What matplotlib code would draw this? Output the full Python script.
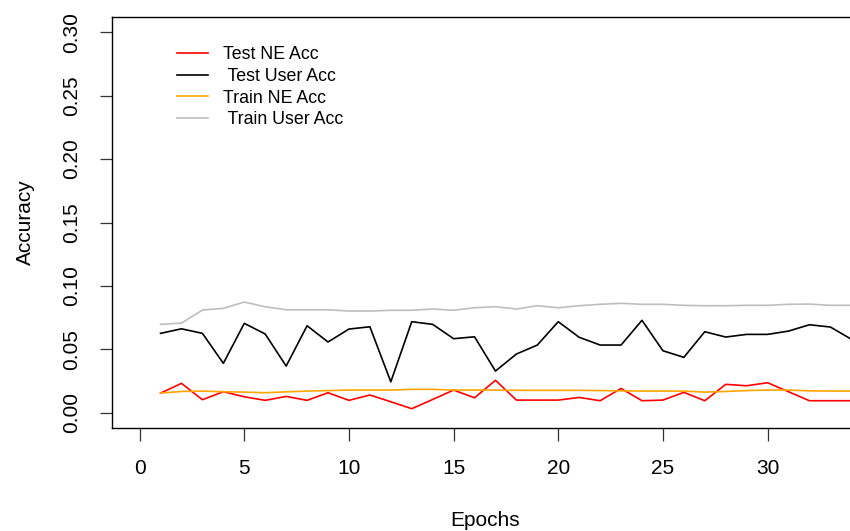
import matplotlib
matplotlib.use("Agg")
import matplotlib.pyplot as plt
import numpy as np

plt.rcParams['font.family'] = ['Liberation Sans', 'DejaVu Sans']

epochs = list(range(1, 35))
test_ne = [0.0155, 0.0232, 0.0103, 0.0166, 0.0126, 0.0098, 0.0129, 0.0098, 0.0158, 0.0098,
           0.0140, 0.0087, 0.0032, 0.0105, 0.0179, 0.0118, 0.0256, 0.0100, 0.0100, 0.0100,
           0.0121, 0.0095, 0.0192, 0.0095, 0.0100, 0.0161, 0.0095, 0.0224, 0.0213, 0.0237,
           0.0166, 0.0095, 0.0095, 0.0095]
test_user = [0.0626, 0.0662, 0.0626, 0.0390, 0.0705, 0.0621, 0.0368, 0.0686, 0.0558, 0.0660,
             0.0678, 0.0244, 0.0718, 0.0697, 0.0584, 0.0599, 0.0329, 0.0463, 0.0534, 0.0718,
             0.0595, 0.0534, 0.0534, 0.0729, 0.0489, 0.0437, 0.0639, 0.0597, 0.0618, 0.0618,
             0.0644, 0.0694, 0.0676, 0.0580]
train_ne = [0.0155, 0.0168, 0.0171, 0.0166, 0.0163, 0.0158, 0.0165, 0.0171, 0.0175, 0.0179,
            0.0179, 0.0179, 0.0185, 0.0185, 0.0179, 0.0179, 0.0179, 0.0177, 0.0177, 0.0177,
            0.0177, 0.0175, 0.0173, 0.0171, 0.0171, 0.0171, 0.0163, 0.0168, 0.0175, 0.0179,
            0.0179, 0.0173, 0.0171, 0.0171]
train_user = [0.0697, 0.0707, 0.0810, 0.0823, 0.0873, 0.0836, 0.0812, 0.0812, 0.0812, 0.0802,
              0.0802, 0.0808, 0.0808, 0.0818, 0.0808, 0.0828, 0.0836, 0.0818, 0.0844, 0.0828,
              0.0844, 0.0855, 0.0863, 0.0855, 0.0855, 0.0847, 0.0844, 0.0844, 0.0847, 0.0847,
              0.0855, 0.0857, 0.0847, 0.0847]

series_labels = ["Test NE Acc", " Test User Acc", "Train NE Acc", " Train User Acc"]
series_colors = ["#FF0000", "#000000", "#FFA500", "#BEBEBE"]
x_ticks = [0, 5, 10, 15, 20, 25, 30]
y_ticks = [0.00, 0.05, 0.10, 0.15, 0.20, 0.25, 0.30]

W, H = 850, 531
fig = plt.figure(figsize=(W / 100, H / 100), dpi=100)
left, right, top, bottom = 112, 858, 17, 428
ax = fig.add_axes([left / W, (H - bottom) / H, (right - left) / W, (bottom - top) / H])

for vals, lab, col in zip([test_ne, test_user, train_ne, train_user], series_labels, series_colors):
    ax.plot(epochs, vals, color=col, lw=1.2, label=lab)

ax.set_xlim(-1.32, 34.32)
ax.set_ylim(-0.012, 0.312)
ax.set_xticks(x_ticks)
ax.set_yticks(y_ticks)
ax.set_xticklabels([str(t) for t in x_ticks], fontsize=15)
ax.set_yticklabels([f"{t:.2f}" for t in y_ticks], fontsize=15, rotation=90, va='center')
ax.tick_params(axis='both', direction='out', length=9, width=0.9, color='#333333')
ax.tick_params(axis='x', pad=13)
ax.tick_params(axis='y', pad=13)
for s in ax.spines.values():
    s.set_linewidth(1.0)

fig.text(485 / W, 1 - 520 / H, "Epochs", fontsize=15, ha='center', va='center')
fig.text(25 / W, 1 - 222 / H, "Accuracy", fontsize=15, ha='center', va='center', rotation=90)

leg = ax.legend(loc='upper left', bbox_to_anchor=(177 / W, 1 - 46 / H),
                bbox_transform=fig.transFigure, frameon=False, fontsize=12.8,
                handlelength=1.75, handletextpad=0.84, labelspacing=0.27,
                borderpad=0, borderaxespad=0)

fig.savefig("out.png", dpi=100)
